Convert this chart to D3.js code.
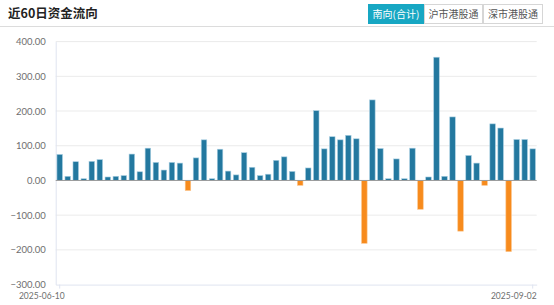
<!DOCTYPE html>
<html>
<head>
<meta charset="utf-8">
<script src="https://cdn.jsdelivr.net/npm/d3@7/dist/d3.min.js"></script>
<style>
  body { margin: 0; background: #fff; }
  svg { display: block; }
</style>
</head>
<body>
<script>
/* ---------------------------- */
/* DATA                         */
/* ---------------------------- */

// 60 trading days (southbound, Jul 1 closed)
const dates = [
  "2025-06-10","2025-06-11","2025-06-12","2025-06-13",
  "2025-06-16","2025-06-17","2025-06-18","2025-06-19","2025-06-20",
  "2025-06-23","2025-06-24","2025-06-25","2025-06-26","2025-06-27",
  "2025-06-30","2025-07-02","2025-07-03","2025-07-04",
  "2025-07-07","2025-07-08","2025-07-09","2025-07-10","2025-07-11",
  "2025-07-14","2025-07-15","2025-07-16","2025-07-17","2025-07-18",
  "2025-07-21","2025-07-22","2025-07-23","2025-07-24","2025-07-25",
  "2025-07-28","2025-07-29","2025-07-30","2025-07-31","2025-08-01",
  "2025-08-04","2025-08-05","2025-08-06","2025-08-07","2025-08-08",
  "2025-08-11","2025-08-12","2025-08-13","2025-08-14","2025-08-15",
  "2025-08-18","2025-08-19","2025-08-20","2025-08-21","2025-08-22",
  "2025-08-25","2025-08-26","2025-08-27","2025-08-28","2025-08-29",
  "2025-09-01","2025-09-02"
];

// net inflow (亿元)
const flows = [
  75, 12, 54, 5, 55, 60, 10, 12, 14, 76,
  25, 93, 52, 30, 52, 50, -29, 65, 117, 5,
  90, 27, 16, 80, 38, 14, 18, 58, 68, 26,
  -14, 36, 201, 91, 126, 117, 130, 120, -181, 232,
  92, 5, 62, 5, 93, -83, 10, 355, 12, 183,
  -146, 72, 50, -14, 163, 151, -205, 118, 118, 91
];

const yTicks = [-300, -200, -100, 0, 100, 200, 300, 400];
const tabs = ["南向(合计)", "沪市港股通", "深市港股通"];
const title = "近60日资金流向";

/* ---------------------------- */
/* CANVAS                       */
/* ---------------------------- */

const w = 554, h = 305;
const plot = {left: 55.7, right: 536.7, top: 41.6, bottom: 284.6};
const cjk = "'Noto Sans CJK SC', 'Noto Sans', sans-serif";
const latin = "Lato, 'Open Sans', sans-serif";

let svg = d3.select("body")
    .append("svg")
        .attr("width", w)
        .attr("height", h);

// Header
svg.append("text")
    .attr("x", 8)
    .attr("y", 18)
    .attr("font-family", cjk)
    .attr("font-size", "12.5px")
    .attr("font-weight", "bold")
    .attr("fill", "#222")
    .text(title);

svg.append("line")
    .attr("x1", 0).attr("x2", w)
    .attr("y1", 26.5).attr("y2", 26.5)
    .attr("stroke", "#dcdcdc");

const tabX = [368, 424, 483, 543];
let tab = svg.selectAll("g.tab")
    .data(tabs)
    .enter()
    .append("g")
        .attr("class", "tab");
tab.append("rect")
    .attr("x", (d, i) => tabX[i] + 0.5)
    .attr("y", 4.5)
    .attr("width", (d, i) => tabX[i + 1] - tabX[i] - 1)
    .attr("height", 19)
    .attr("fill", (d, i) => i === 0 ? "#17a7c3" : "#fff")
    .attr("stroke", (d, i) => i === 0 ? "#17a7c3" : "#d6d6d6");
tab.append("text")
    .attr("x", (d, i) => (tabX[i] + tabX[i + 1]) / 2)
    .attr("y", 17.5)
    .attr("text-anchor", "middle")
    .attr("font-family", cjk)
    .attr("font-size", "10px")
    .attr("fill", (d, i) => i === 0 ? "#fff" : "#555")
    .text(d => d);

/* ---------------------------- */
/* SCALES                       */
/* ---------------------------- */

let x = d3.scaleBand()
    .domain(dates)
    .range([plot.left, plot.right])
    .paddingInner(0.31)
    .paddingOuter(0.155);

let y = d3.scaleLinear()
    .domain([-300, 400])
    .range([plot.bottom, plot.top]);

// Grid lines
svg.append("g")
    .selectAll("line")
    .data(yTicks.filter(d => d !== 0 && d !== -300))
    .enter()
    .append("line")
        .attr("x1", plot.left).attr("x2", plot.right)
        .attr("y1", d => y(d)).attr("y2", d => y(d))
        .attr("stroke", "#ebebeb");

// Y axis labels
let yAxis = svg.append("g")
    .attr("transform", "translate(" + plot.left + ",0)")
    .call(d3.axisLeft(y).tickValues(yTicks).tickSize(0).tickPadding(10)
        .tickFormat(d3.format(".2f")));
yAxis.select(".domain").attr("stroke", "#dfe4f0");
yAxis.selectAll("text")
    .attr("font-family", latin)
    .attr("font-size", "9.5px")
    .attr("fill", "#6e6e6e");

// X axis (bottom)
let first = dates[0], last = dates[dates.length - 1];
let xAxis = svg.append("g")
    .attr("transform", "translate(0," + plot.bottom + ")")
    .call(d3.axisBottom(x).tickValues([first, last]).tickSize(4).tickSizeOuter(0));
xAxis.select(".domain").attr("stroke", "#dfe4f0");
xAxis.selectAll("line").attr("stroke", "#dfe4f0");
xAxis.selectAll("text")
    .attr("font-family", latin)
    .attr("font-size", "8.5px")
    .attr("fill", "#6e6e6e")
    .attr("dy", "0.9em")
    .attr("text-anchor", d => d === first ? "end" : "end")
    .attr("dx", d => d === first ? 5 : plot.right - (x(last) + x.bandwidth() / 2));

/* ---------------------------- */
/* BARS                         */
/* ---------------------------- */

let data = dates.map((d, i) => ({date: d, value: flows[i]}));

svg.append("g")
    .selectAll("rect")
    .data(data)
    .enter()
    .append("rect")
        .attr("x", d => x(d.date))
        .attr("y", d => y(Math.max(0, d.value)))
        .attr("width", x.bandwidth())
        .attr("height", d => Math.abs(y(d.value) - y(0)))
        .attr("fill", d => d.value >= 0 ? "#23789f" : "#f78b1d")
        .attr("stroke", d => d.value >= 0 ? "#a9cfe2" : "#fbc48c")
        .attr("stroke-width", 0.6);

// Zero line
svg.append("line")
    .attr("x1", plot.left).attr("x2", plot.right)
    .attr("y1", y(0)).attr("y2", y(0))
    .attr("stroke", "#9a9a9a")
    .attr("stroke-width", 1);
</script>
</body>
</html>
